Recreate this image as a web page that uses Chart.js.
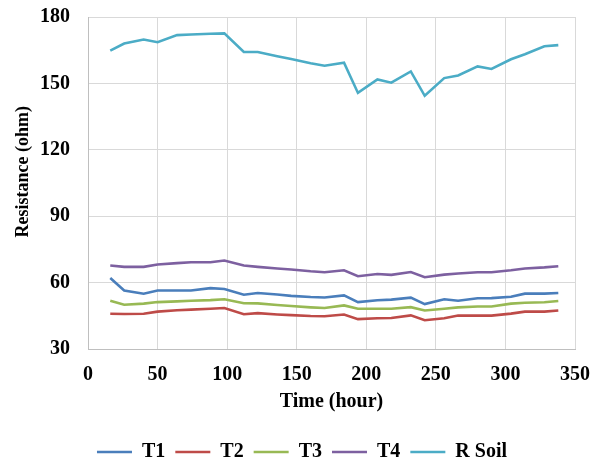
<!DOCTYPE html>
<html>
<head>
<meta charset="utf-8">
<script src="https://cdn.jsdelivr.net/npm/chart.js@4"></script>
<style>
html,body{margin:0;padding:0;background:#fff;}
#wrap{width:604px;height:462px;}
</style>
</head>
<body>
<div id="wrap"><canvas id="c" width="604" height="462"></canvas></div>
<script>
const hours = [16,26,40,50,64,74,88,98,112,122,136,146,160,170,184,194,208,218,232,242,256,266,280,290,304,314,328,338];
const t1 = [62.1,56.4,55.0,56.4,56.4,56.4,57.5,57.1,54.5,55.3,54.6,54.0,53.5,53.3,54.2,51.2,52.0,52.3,53.2,50.3,52.5,51.8,52.9,53.0,53.6,55.0,55.0,55.3];
const t2 = [45.9,45.8,45.9,46.9,47.5,47.8,48.2,48.5,45.7,46.2,45.6,45.3,44.9,44.8,45.6,43.5,43.9,44.0,45.2,43.0,43.9,45.1,45.1,45.1,46.0,46.9,46.9,47.4];
const t3 = [51.8,50.0,50.5,51.2,51.5,51.8,52.1,52.5,50.7,50.6,49.9,49.4,48.8,48.5,49.7,48.2,48.2,48.2,48.9,47.4,48.2,48.8,49.2,49.2,50.5,50.9,51.1,51.7];
const t4 = [67.7,67.1,67.1,68.2,68.8,69.2,69.2,70.0,67.7,67.1,66.4,65.9,65.1,64.7,65.6,62.9,63.9,63.5,64.8,62.4,63.6,64.1,64.7,64.7,65.6,66.4,66.9,67.4];
const rSoil = [164.8,168.0,169.8,168.6,171.8,172.1,172.4,172.6,164.2,164.2,162.3,161.0,159.1,158.0,159.4,145.7,151.8,150.3,155.4,144.4,152.4,153.6,157.7,156.5,160.9,163.2,166.8,167.3];
const seriesNames = ['T1','T2','T3','T4','R Soil'];
const seriesColors = ['#4A7EBB','#BE4B48','#98B954','#7D60A0','#4BACC6'];
const seriesValues = [t1,t2,t3,t4,rSoil];
const xTicks = [0,50,100,150,200,250,300,350];
const yTicks = [30,60,90,120,150,180];

const fam = '"Liberation Serif","Times New Roman",serif';
const tickFont = {family:fam, weight:'bold', size:20};
const xTitleFont = {family:fam, weight:'bold', size:20};
const yTitleFont = {family:fam, weight:'bold', size:18};
const legendFont = {family:fam, weight:'bold', size:20};

const datasets = seriesNames.map((n,i)=>({
  label:n,
  data: hours.map((h,j)=>({x:h,y:seriesValues[i][j]})),
  borderColor: seriesColors[i],
  backgroundColor: seriesColors[i],
  borderWidth: 2.6,
  pointRadius: 0,
  tension: 0,
  fill:false,
  yAxisID:'y'
}));

new Chart(document.getElementById('c'), {
  type:'line',
  data:{datasets},
  options:{
    responsive:false,
    animation:false,
    devicePixelRatio:1,
    layout:{padding:{left:0,right:0,top:17,bottom:-10}},
    plugins:{
      legend:{
        position:'bottom',
        labels:{
          usePointStyle:true,
          pointStyle:'line',
          pointStyleWidth:35,
          boxHeight:3,
          color:'#000',
          font:legendFont,
          padding:10
        }
      },
      tooltip:{enabled:false}
    },
    scales:{
      x:{
        type:'linear',
        min:0,max:350,
        afterBuildTicks:(s)=>{s.ticks = xTicks.map(v=>({value:v}));},
        afterFit:(s)=>{s.height=83;},
        grid:{color:'#D9D9D9',drawTicks:false,lineWidth:1},
        border:{color:'#BFBFBF'},
        ticks:{color:'#000',font:tickFont,padding:14,maxRotation:0},
        title:{display:true,text:'Time (hour)',color:'#000',font:xTitleFont,padding:{top:4,bottom:18}}
      },
      y:{
        type:'linear',
        position:'left',
        min:30,max:180,
        afterBuildTicks:(s)=>{s.ticks = yTicks.map(v=>({value:v}));},
        afterFit:(s)=>{s.width=88; s.paddingTop=0; s.paddingBottom=0;},
        grid:{color:'#D9D9D9',drawTicks:false,lineWidth:1},
        border:{color:'#BFBFBF'},
        ticks:{color:'#000',font:tickFont,padding:18},
        title:{display:true,text:'     Resistance (ohm)',color:'#000',font:yTitleFont,padding:{top:13,bottom:4}}
      },
      yRight:{
        type:'linear',
        position:'right',
        min:0,max:1,
        afterFit:(s)=>{s.width=28; s.paddingTop=0; s.paddingBottom=0;},
        grid:{display:false,drawTicks:false},
        border:{display:false},
        ticks:{display:false}
      }
    }
  }
});
</script>
</body>
</html>
